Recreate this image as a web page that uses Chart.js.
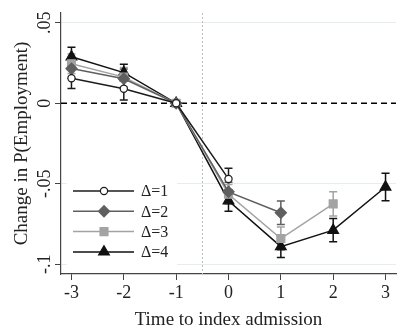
<!DOCTYPE html>
<html>
<head>
<meta charset="utf-8">
<script src="https://cdn.jsdelivr.net/npm/chart.js@4"></script>
<style>
  html, body { margin: 0; padding: 0; background: #fff; }
  #wrap { width: 410px; height: 334px; }
</style>
</head>
<body>
<div id="wrap"><canvas id="chart" width="410" height="334"></canvas></div>
<script>
// Event-study estimates: change in P(Employment) around index admission

const X_VALUES = [-3, -2, -1, 0, 1, 2, 3];
const X_TICKS = [-3, -2, -1, 0, 1, 2, 3];
const Y_TICKS = [-0.1, -0.05, 0, 0.05];
const Y_TICK_LABELS = ['-.1', '-.05', '0', '.05'];
const SERIES_LABELS = ['Δ=1', 'Δ=2', 'Δ=3', 'Δ=4'];

// point estimates per series (starting at t = -3)
const EST_D1 = [0.0155, 0.0090, 0, -0.0470];
const EST_D2 = [0.0215, 0.0152, 0, -0.0550, -0.0680];
const EST_D3 = [0.0245, 0.0162, 0, -0.0565, -0.0840, -0.0625];
const EST_D4 = [0.0288, 0.0190, 0, -0.0605, -0.0890, -0.0788, -0.0520];

// half-width of the confidence intervals
const CI_D1 = [0.0063, 0.0070, 0, 0.0067];
const CI_D2 = [0.0060, 0.0060, 0, 0.0060, 0.0073];
const CI_D3 = [0.0060, 0.0060, 0, 0.0060, 0.0072, 0.0075];
const CI_D4 = [0.0060, 0.0052, 0, 0.0065, 0.0068, 0.0072, 0.0085];

const EVENT_LINE_X = -0.5;

const FONT = '"Liberation Serif", "Times New Roman", serif';

const styles = [
    { color: '#1c1c1c', pointStyle: 'circle', radius: 3.6, fill: '#ffffff' },
    { color: '#5f5f5f', pointStyle: 'rectRot', radius: 5.6, fill: '#5f5f5f' },
    { color: '#a3a3a3', pointStyle: 'rect', radius: 5.6, fill: '#a3a3a3' },
    { color: '#111111', pointStyle: 'triangle', radius: 6.2, fill: '#111111' }
];

const estimates = [EST_D1, EST_D2, EST_D3, EST_D4];
const intervals = [CI_D1, CI_D2, CI_D3, CI_D4];

const datasets = estimates.map((est, i) => ({
    label: SERIES_LABELS[i],
    data: est.map((v, j) => ({ x: X_VALUES[j], y: v })),
    ci: intervals[i],
    borderColor: styles[i].color,
    backgroundColor: styles[i].fill,
    borderWidth: 1.5,
    pointStyle: styles[i].pointStyle,
    pointRadius: styles[i].radius,
    pointBorderColor: styles[i].color,
    pointBackgroundColor: styles[i].fill,
    pointBorderWidth: 1.2,
    tension: 0
}));

// reference lines + confidence caps, under the series
const underlay = {
    id: 'underlay',
    beforeDatasetsDraw(chart) {
        const { ctx, chartArea, scales } = chart;
        const x = scales.x, y = scales.y;
        ctx.save();

        // event marker
        ctx.strokeStyle = '#bdbdbd';
        ctx.lineWidth = 1;
        ctx.setLineDash([2, 2]);
        const ex = Math.round(x.getPixelForValue(EVENT_LINE_X)) + 0.5;
        ctx.beginPath();
        ctx.moveTo(ex, chartArea.top);
        ctx.lineTo(ex, chartArea.bottom);
        ctx.stroke();

        // zero line
        ctx.strokeStyle = '#000';
        ctx.lineWidth = 1.5;
        ctx.setLineDash([6, 4]);
        const zy = y.getPixelForValue(0);
        ctx.beginPath();
        ctx.moveTo(chartArea.left, zy);
        ctx.lineTo(chartArea.right, zy);
        ctx.stroke();
        ctx.setLineDash([]);

        // capped intervals
        chart.data.datasets.forEach(ds => {
            ctx.strokeStyle = ds.borderColor;
            ctx.lineWidth = 1.5;
            ds.data.forEach((p, j) => {
                const h = ds.ci[j];
                if (!h) return;
                const px = x.getPixelForValue(p.x);
                const top = y.getPixelForValue(p.y + h);
                const bot = y.getPixelForValue(p.y - h);
                ctx.beginPath();
                ctx.moveTo(px, top);
                ctx.lineTo(px, bot);
                ctx.moveTo(px - 4, top);
                ctx.lineTo(px + 4, top);
                ctx.moveTo(px - 4, bot);
                ctx.lineTo(px + 4, bot);
                ctx.stroke();
            });
        });
        ctx.restore();
    }
};

// vertical y tick labels and the in-plot legend
const overlay = {
    id: 'overlay',
    afterDraw(chart) {
        const { ctx, chartArea, scales } = chart;
        ctx.save();
        ctx.fillStyle = '#222';
        ctx.font = '18px ' + FONT;
        ctx.textAlign = 'center';
        ctx.textBaseline = 'alphabetic';
        Y_TICKS.forEach((v, i) => {
            const py = scales.y.getPixelForValue(v);
            ctx.save();
            ctx.translate(50, py);
            ctx.rotate(-Math.PI / 2);
            ctx.fillText(Y_TICK_LABELS[i], 0, 0);
            ctx.restore();
        });

        // legend box
        const lx = chartArea.left + 6;
        const ly = chartArea.bottom - 98;
        ctx.fillStyle = '#fff';
        ctx.fillRect(lx, ly, 110, 92);
        chart.data.datasets.forEach((ds, i) => {
            const ry = ly + 15 + i * 20.3;
            ctx.strokeStyle = ds.borderColor;
            ctx.lineWidth = 1.5;
            ctx.beginPath();
            ctx.moveTo(lx + 6, ry);
            ctx.lineTo(lx + 67, ry);
            ctx.stroke();
            ctx.fillStyle = ds.pointBackgroundColor;
            ctx.lineWidth = ds.pointBorderWidth;
            Chart.helpers.drawPoint(ctx, {
                pointStyle: ds.pointStyle,
                radius: ds.pointRadius,
                rotation: 0,
                borderWidth: ds.pointBorderWidth
            }, lx + 37, ry);
            ctx.fillStyle = '#222';
            ctx.font = '16px ' + FONT;
            ctx.textAlign = 'left';
            ctx.textBaseline = 'middle';
            ctx.fillText(ds.label, lx + 74, ry + 1);
        });
        ctx.restore();
    }
};

new Chart(document.getElementById('chart'), {
    type: 'line',
    data: { datasets },
    options: {
        responsive: false,
        animation: false,
        layout: { padding: { top: 13, right: 14, left: 0, bottom: 0 } },
        plugins: { legend: { display: false }, tooltip: { enabled: false } },
        scales: {
            x: {
                type: 'linear',
                min: -3.2,
                max: 3.2,
                afterBuildTicks: s => { s.ticks = X_TICKS.map(v => ({ value: v })); },
                afterFit: s => { s.height = 60; },
                ticks: {
                    font: { family: FONT, size: 18 },
                    color: '#222',
                    padding: 2,
                    maxRotation: 0
                },
                grid: { drawOnChartArea: false, tickLength: 6, color: '#444', lineWidth: 1 },
                border: { color: '#444', width: 1.2 },
                title: {
                    display: true,
                    text: 'Time to index admission',
                    font: { family: FONT, size: 19 },
                    color: '#222',
                    padding: { top: 0, bottom: 3 }
                }
            },
            y: {
                type: 'linear',
                min: -0.106,
                max: 0.056,
                afterBuildTicks: s => { s.ticks = Y_TICKS.map(v => ({ value: v })); },
                afterFit: s => { s.width = 61; },
                ticks: { display: false },
                grid: {
                    tickLength: 6,
                    lineWidth: 1,
                    color: ctx => (ctx.tick && ctx.tick.value === 0) ? 'rgba(0,0,0,0)' : '#e4edf0',
                    tickColor: '#444'
                },
                border: { color: '#444', width: 1.2 },
                title: {
                    display: true,
                    text: 'Change in P(Employment)',
                    font: { family: FONT, size: 19 },
                    color: '#222',
                    padding: { top: 11, bottom: 0 }
                }
            }
        }
    },
    plugins: [underlay, overlay]
});
</script>
</body>
</html>
